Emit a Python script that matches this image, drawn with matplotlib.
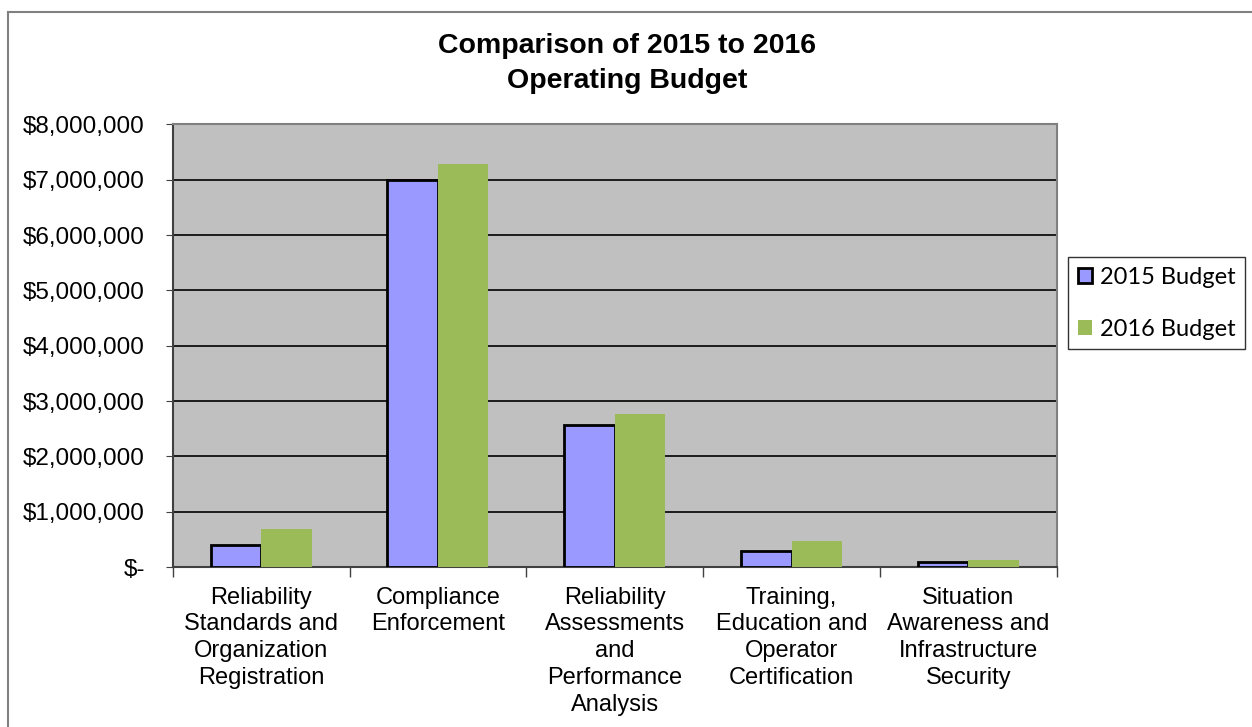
import matplotlib.pyplot as plt
import numpy as np
from matplotlib.patches import Rectangle
from matplotlib.ticker import FuncFormatter

categories = ['Reliability\nStandards and\nOrganization\nRegistration',
              'Compliance\nEnforcement',
              'Reliability\nAssessments\nand\nPerformance\nAnalysis',
              'Training,\nEducation and\nOperator\nCertification',
              'Situation\nAwareness and\nInfrastructure\nSecurity']
budget_2015 = [397000, 6990000, 2570000, 290000, 90000]
budget_2016 = [686000, 7290000, 2760000, 470000, 120000]

plt.rcParams['font.family'] = ['Liberation Sans', 'DejaVu Sans']

fig = plt.figure(figsize=(12.52, 7.27), dpi=100)
ax = fig.add_axes([0.138, 0.220, 0.706, 0.609])

x = np.arange(len(categories))
w = 1 / 3.5
ax.bar(x - w / 2, budget_2015, w, color='#9999FF', edgecolor='black', linewidth=2,
       label='2015 Budget', zorder=3)
ax.bar(x + w / 2, budget_2016, w, color='#9BBB59', linewidth=0,
       label='2016 Budget', zorder=3)

ax.set_facecolor('#C0C0C0')
ax.set_xlim(-0.5, len(categories) - 0.5)
ax.set_ylim(0, 8000000)
ax.set_yticks(np.arange(0, 8000001, 1000000))
ax.yaxis.set_major_formatter(FuncFormatter(lambda v, p: '$-' if v == 0 else f'${v:,.0f}'))
ax.grid(axis='y', color='black', linewidth=1.2, zorder=1)

ax.set_xticks(np.arange(-0.5, len(categories), 1))
ax.set_xticklabels([])
ax.set_xticks(x, minor=True)
ax.set_xticklabels(categories, minor=True, fontsize=17, linespacing=1.28)
ax.tick_params(axis='x', which='minor', length=0, pad=14)
ax.tick_params(axis='x', which='major', length=7, width=1, color='#404040')
ax.tick_params(axis='y', length=5, labelsize=17.5, pad=15, color='#404040')

for s in ax.spines.values():
    s.set_color('#808080')
    s.set_linewidth(1.5)
ax.spines['left'].set_color('#404040')
ax.spines['bottom'].set_color('#404040')

fig.text(0.501, 0.913, 'Comparison of 2015 to 2016\nOperating Budget', ha='center', va='center',
         fontsize=20.5, fontweight='bold', linespacing=1.45)

leg = ax.legend(loc='center left', bbox_to_anchor=(1.013, 0.596), frameon=True, fancybox=False,
                edgecolor='black', prop={'family': ['Lato', 'DejaVu Sans'], 'size': 17},
                handlelength=0.6, handleheight=0.6, handletextpad=0.35, labelspacing=1.3,
                borderpad=0.4, borderaxespad=0)
leg.get_frame().set_linewidth(1)

fig.patches.append(Rectangle((0.006, -0.01), 1.1, 1.0 - 0.006, transform=fig.transFigure,
                             fill=False, edgecolor='#808080', linewidth=1.5))

fig.savefig('out.png', dpi=100)
